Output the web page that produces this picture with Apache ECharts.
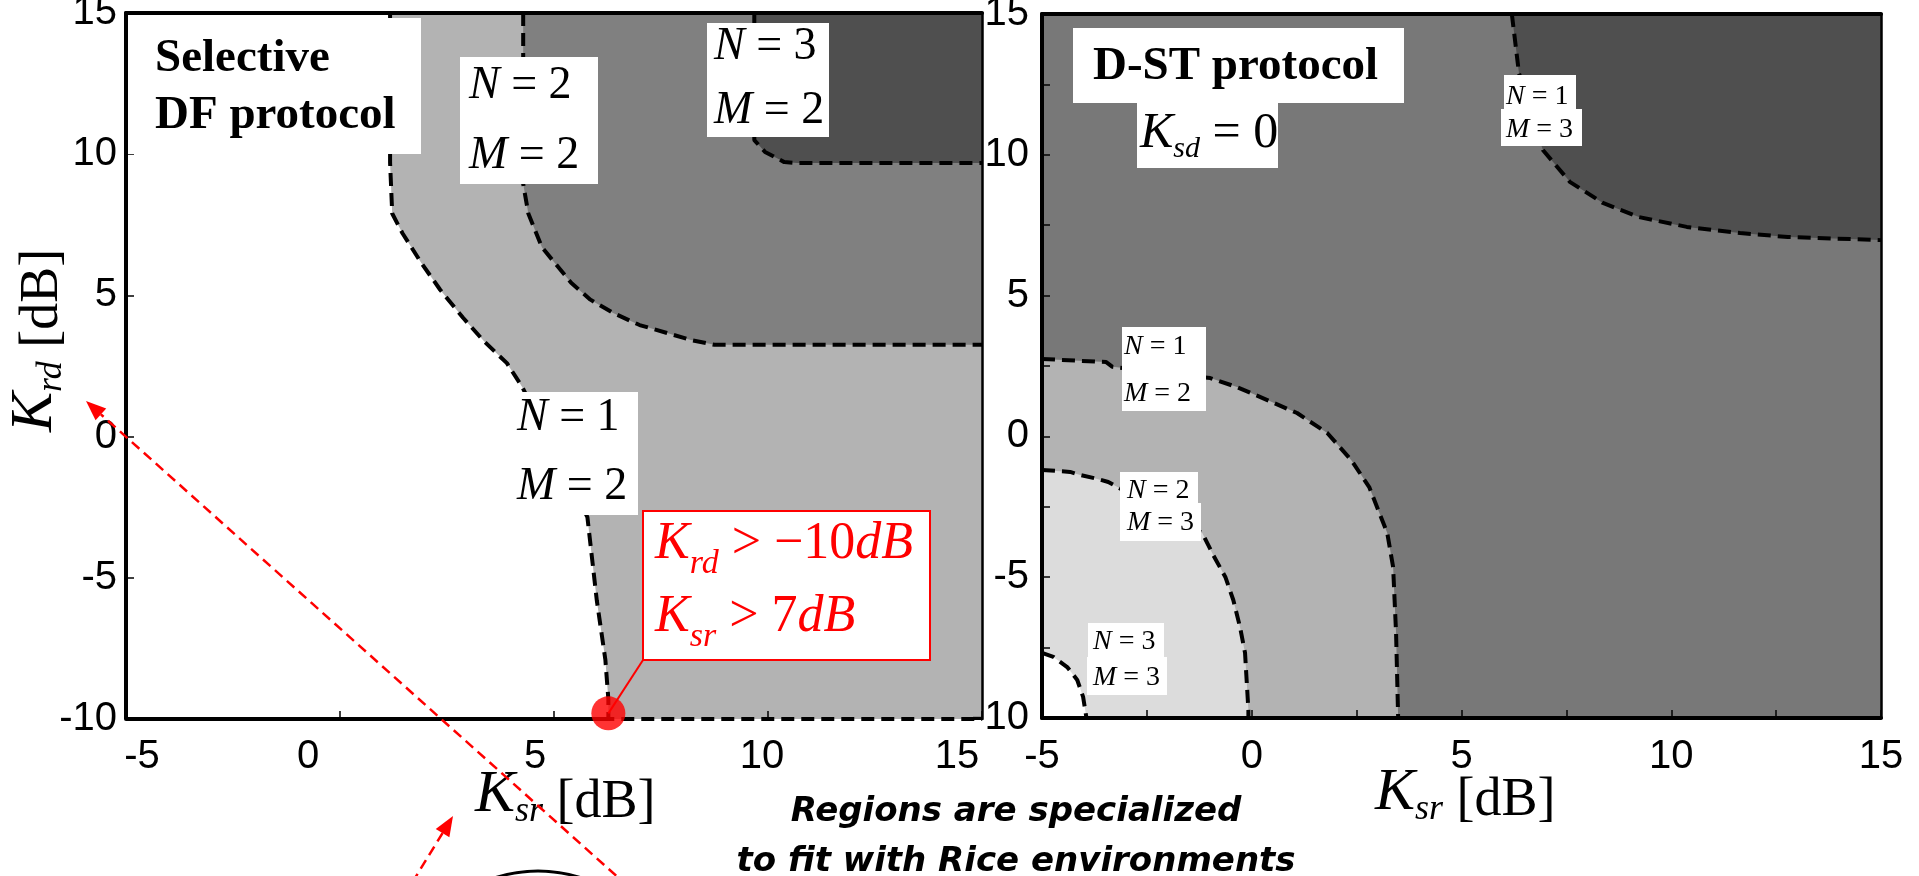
<!DOCTYPE html>
<html>
<head>
<meta charset="utf-8">
<script src="https://cdn.jsdelivr.net/npm/echarts@6/dist/echarts.min.js"></script>
<style>
  html, body { margin: 0; padding: 0; background: #fff; }
  #chart { width: 1919px; height: 876px; }
</style>
</head>
<body>
<div id="chart"></div>
<script>
// labelled ticks (dB)
const ksrTicks = [-5, 0, 5, 10, 15];
const krdTicks = [-10, -5, 0, 5, 10, 15];

// Selective DF protocol : region borders, [Ksr, Krd] in dB
const dfN1M2Edge = [[1.17, 15], [1.17, 9.7], [1.22, 7.9], [1.46, 7.2], [1.9, 6.15], [2.34, 5.2],
  [2.88, 4.2], [3.35, 3.4], [3.9, 2.6], [4.26, 1.75], [5.78, -2.85], [6.0, -5.8], [6.2, -7.9],
  [6.27, -9.3], [6.27, -10], [15, -10]];
const dfN2M2Edge = [[4.28, 15], [4.28, 8.95], [4.4, 7.9], [4.72, 6.7], [5.4, 5.45], [5.85, 4.85],
  [6.38, 4.38], [7.0, 3.95], [7.64, 3.67], [8.2, 3.42], [8.75, 3.25], [15, 3.25]];
const dfN3M2Edge = [[9.68, 15], [9.68, 10.5], [9.93, 10.08], [10.38, 9.72], [10.68, 9.69], [15, 9.69]];
const dfSolidBase = [[-5, -10], [6.27, -10]];
const dfThreshold = [6.27, -9.8];
const dfCallout = [[6.27, -9.8], [7.08, -7.91]];

// D-ST protocol (Ksd = 0) : region borders
const dstN1M3Edge = [[6.2, 15], [6.37, 12.9], [6.94, 10.17], [7.59, 9.03], [8.37, 8.29], [9.23, 7.79],
  [10.37, 7.44], [11.64, 7.22], [12.78, 7.08], [15, 6.97]];
const dstN1M2Edge = [[-5, 2.75], [-3.47, 2.64], [-3.32, 2.47], [-0.99, 2.07], [-0.35, 1.75], [0.37, 1.29],
  [1.08, 0.83], [1.8, 0.12], [2.37, -0.84], [2.8, -1.8], [3.23, -3.43], [3.37, -4.64], [3.44, -6.98],
  [3.49, -10]];
const dstN2M3Edge = [[-5, -1.19], [-4.33, -1.26], [-4.09, -1.37], [-3.68, -1.51], [-3.42, -1.62],
  [-1.18, -3.43], [-0.92, -4.21], [-0.63, -4.99], [-0.44, -5.81], [-0.28, -6.77], [-0.16, -7.69],
  [-0.08, -9.72], [-0.08, -10]];
const dstN3M3Edge = [[-5, -7.69], [-4.73, -7.83], [-4.4, -8.19], [-4.16, -8.65], [-4.02, -9.25], [-3.94, -10]];

const sans = '"Liberation Sans", Arial, sans-serif';
const serif = '"Liberation Serif", "Times New Roman", serif';

// regions painted one over the other
const dfRegions = [
  { points: dfN1M2Edge.concat([[15, 15]]), color: '#b3b3b3' },
  { points: dfN2M2Edge.concat([[15, 15]]), color: '#808080' },
  { points: dfN3M2Edge.concat([[15, 15]]), color: '#4f4f4f' },
];
const dstRegions = [
  { points: dstN1M3Edge.concat([[15, 15]]), color: '#4f4f4f' },
  { points: dstN1M2Edge.concat([[-5, -10]]), color: '#b3b3b3' },
  { points: dstN2M3Edge.concat([[-5, -10]]), color: '#dcdcdc' },
  { points: dstN3M3Edge.concat([[-5, -10]]), color: '#ffffff' },
];

function regionSeries(regions, axisIdx) {
  return {
    type: 'custom',
    xAxisIndex: axisIdx,
    yAxisIndex: axisIdx,
    silent: true,
    z: 1,
    data: regions.map(r => r.points[0]),
    renderItem: function (params, api) {
      const r = regions[params.dataIndex];
      return {
        type: 'polygon',
        shape: { points: r.points.map(p => api.coord(p)) },
        style: { fill: r.color },
      };
    },
  };
}

function edgeSeries(data, axisIdx) {
  return {
    type: 'line',
    data: data,
    xAxisIndex: axisIdx,
    yAxisIndex: axisIdx,
    symbol: 'none',
    clip: false,
    silent: true,
    z: 4,
    lineStyle: { color: '#000', width: 4, type: [13, 7] },
  };
}

const tickStyle = { show: true, inside: true, length: 8, lineStyle: { color: '#000', width: 1.5 } };
const labelFont = { fontSize: 40, fontFamily: sans, color: '#000' };

// the left panel's x labels sit a bit off their ticks in the original
const dfXShift = { '-5': 16, '0': -32, '5': -19, '10': -6, '15': -25 };
const dfXRich = {};
ksrTicks.forEach((v, i) => {
  const s = dfXShift[v];
  dfXRich['t' + i] = Object.assign({}, labelFont, { padding: s > 0 ? [0, 0, 0, 2 * s] : [0, -2 * s, 0, 0] });
});

function frameAxis(grid, pos, width, range) {
  return {
    type: 'value', gridIndex: grid, position: pos, min: range[0], max: range[1], z: 6,
    axisLine: { show: true, onZero: false, lineStyle: { color: '#000', width: width } },
    axisTick: { show: false }, axisLabel: { show: false }, splitLine: { show: false },
  };
}

const option = {
  backgroundColor: '#fff',
  animation: false,
  grid: [
    { left: 126, top: 13, width: 856, height: 706, show: true, backgroundColor: '#fff', borderWidth: 0, outerBoundsMode: 'none' },
    { left: 1042, top: 14, width: 839, height: 704, show: true, backgroundColor: '#787878', borderWidth: 0, outerBoundsMode: 'none' },
  ],
  xAxis: [
    {
      type: 'value', gridIndex: 0, position: 'bottom', min: -5, max: 15, interval: 5, z: 6,
      axisLine: { show: false, onZero: false }, axisTick: tickStyle, splitLine: { show: false },
      axisLabel: {
        margin: 18,
        formatter: v => '{t' + ksrTicks.indexOf(v) + '|' + v + '}',
        rich: dfXRich,
      },
    },
    frameAxis(0, 'top', 4, [-5, 15]),
    {
      type: 'value', gridIndex: 1, position: 'bottom', min: -5, max: 15, interval: 2.5, z: 6,
      axisLine: { show: true, onZero: false, lineStyle: { color: '#000', width: 4 } },
      axisTick: tickStyle, splitLine: { show: false },
      axisLabel: Object.assign({ margin: 19, formatter: v => (ksrTicks.includes(v) ? String(v) : '') }, labelFont),
    },
    frameAxis(1, 'top', 4, [-5, 15]),
  ],
  yAxis: [
    {
      type: 'value', gridIndex: 0, position: 'left', min: -10, max: 15, interval: 5, z: 6,
      axisLine: { show: true, onZero: false, lineStyle: { color: '#000', width: 4 } },
      axisTick: tickStyle, splitLine: { show: false },
      axisLabel: Object.assign({ margin: 9, padding: [22, 0, 0, 0], formatter: v => (krdTicks.includes(v) ? String(v) : '') }, labelFont),
    },
    frameAxis(0, 'right', 2.5, [-10, 15]),
    {
      type: 'value', gridIndex: 1, position: 'left', min: -10, max: 15, interval: 2.5, z: 6,
      axisLine: { show: true, onZero: false, lineStyle: { color: '#000', width: 4 } },
      axisTick: tickStyle, splitLine: { show: false },
      axisLabel: Object.assign({ margin: 13, padding: [20, 0, 0, 0], formatter: v => (krdTicks.includes(v) ? String(v) : '') }, labelFont),
    },
    frameAxis(1, 'right', 2.5, [-10, 15]),
  ],
  series: [
    regionSeries(dfRegions, 0),
    regionSeries(dstRegions, 2),
    edgeSeries(dfN1M2Edge, 0),
    edgeSeries(dfN2M2Edge, 0),
    edgeSeries(dfN3M2Edge, 0),
    edgeSeries(dstN1M3Edge, 2),
    edgeSeries(dstN1M2Edge, 2),
    edgeSeries(dstN2M3Edge, 2),
    edgeSeries(dstN3M3Edge, 2),
    {
      type: 'line', data: dfSolidBase, xAxisIndex: 0, yAxisIndex: 0, symbol: 'none', clip: false, silent: true, z: 5,
      lineStyle: { color: '#000', width: 4 },
    },
    {
      type: 'line', data: dfCallout, xAxisIndex: 0, yAxisIndex: 0, symbol: 'none', clip: false, silent: true, z: 5,
      lineStyle: { color: '#f00', width: 2 },
    },
    {
      type: 'scatter', data: [dfThreshold], xAxisIndex: 0, yAxisIndex: 0, symbolSize: 34, clip: false, silent: true, z: 7,
      itemStyle: { color: '#f00' },
    },
  ],
  graphic: buildAnnotations(),
};

function nmRich(size, lh) {
  return {
    i: { fontFamily: serif, fontStyle: 'italic', fontSize: size, lineHeight: lh, fill: '#000' },
    r: { fontFamily: serif, fontSize: size, lineHeight: lh, fill: '#000' },
  };
}

function kRich(size, subSize, unitSize, lh, subLh, color) {
  return {
    k: { fontFamily: serif, fontStyle: 'italic', fontSize: size, lineHeight: lh, fill: color },
    s: { fontFamily: serif, fontStyle: 'italic', fontSize: subSize, lineHeight: subLh, verticalAlign: 'bottom', fill: color },
    r: { fontFamily: serif, fontSize: size, lineHeight: lh, fill: color },
    u: { fontFamily: serif, fontSize: unitSize, lineHeight: lh - 6, verticalAlign: 'bottom', fill: color },
  };
}

function buildAnnotations() {
  const g = [];
  const box = (x, y, w, h) => g.push({ type: 'rect', z: 110, silent: true, shape: { x, y, width: w, height: h }, style: { fill: '#fff' } });
  const text = (x, y, str, rich, extra) => g.push(Object.assign({
    type: 'text', x, y, z: 120, silent: true,
    style: { text: str, rich, align: 'left', verticalAlign: 'top', fill: '#000' },
  }, extra || {}));

  // left panel
  box(128, 18, 293, 136);
  text(155, 30, '{b|Selective}\n{b|DF protocol}', { b: { fontFamily: serif, fontWeight: 'bold', fontSize: 47, lineHeight: 57, fill: '#000' } });
  box(460, 57, 138, 127);
  text(469, 51, '{i|N}{r| = 2}\n{i|M}{r| = 2}', nmRich(46, 70));
  box(707, 23, 122, 114);
  text(714, 15, '{i|N}{r| = 3}\n{i|M}{r| = 2}', nmRich(46, 64));
  box(515, 392, 123, 123);
  text(517, 383, '{i|N}{r| = 1}\n{i|M}{r| = 2}', nmRich(46, 69));

  g.push({ type: 'rect', z: 110, silent: true, shape: { x: 643, y: 511, width: 287, height: 149 }, style: { fill: '#fff', stroke: '#f00', lineWidth: 2 } });
  text(655, 508, '{k|K}{s|rd}{r| > −10}{k|dB}\n{k|K}{s|sr}{r| > 7}{k|dB}', kRich(52, 34, 52, 73, 41, '#f00'));

  // right panel
  box(1073, 28, 331, 75);
  text(1093, 38, '{b|D-ST protocol}', { b: { fontFamily: serif, fontWeight: 'bold', fontSize: 47, lineHeight: 57, fill: '#000' } });
  box(1137, 103, 141, 65);
  text(1140, 104, '{k|K}{s|sd}{r| = 0}', kRich(50, 30, 50, 60, 38, '#000'));
  box(1504, 75, 72, 34); box(1501, 109, 81, 37);
  text(1506, 80, '{i|N}{r| = 1}\n{i|M}{r| = 3}', nmRich(28, 33));
  box(1122, 327, 84, 84);
  text(1124, 323, '{i|N}{r| = 1}\n{i|M}{r| = 2}', nmRich(28, 47));
  box(1120, 472, 78, 31); box(1120, 503, 81, 38);
  text(1127, 475, '{i|N}{r| = 2}\n{i|M}{r| = 3}', nmRich(28, 32));
  box(1088, 623, 76, 34); box(1087, 657, 80, 38);
  text(1093, 624, '{i|N}{r| = 3}\n{i|M}{r| = 3}', nmRich(28, 36));

  // axis names
  const nameRich = kRich(60, 36, 54, 70, 22, '#000');
  text(475, 760, '{k|K}{s|sr}{u| [dB]}', nameRich);
  text(1375, 758, '{k|K}{s|sr}{u| [dB]}', nameRich);
  text(0, 432, '{k|K}{s|rd}{u| [dB]}', nameRich, { rotation: Math.PI / 2 });

  // note under the panels
  g.push({
    type: 'text', x: 1016, y: 787, z: 120, silent: true,
    style: {
      text: 'Regions are specialized\nto fit with Rice environments',
      align: 'center', verticalAlign: 'top', fill: '#000',
      fontFamily: '"DejaVu Sans", sans-serif', fontWeight: 'bold', fontStyle: 'italic', fontSize: 34, lineHeight: 50,
    },
  });

  // red dashed pointers
  const arrow = (x1, y1, x2, y2) => {
    const len = Math.hypot(x2 - x1, y2 - y1), ux = (x2 - x1) / len, uy = (y2 - y1) / len;
    const bx = x2 - ux * 20, by = y2 - uy * 20;
    g.push({ type: 'line', z: 130, silent: true, shape: { x1, y1, x2: bx, y2: by }, style: { stroke: '#f00', lineWidth: 2.5, lineDash: [10, 6] } });
    g.push({ type: 'polygon', z: 130, silent: true, shape: { points: [[x2, y2], [bx - uy * 8, by + ux * 8], [bx + uy * 8, by - ux * 8]] }, style: { fill: '#f00' } });
  };
  arrow(640, 897, 86, 401);
  arrow(404, 896, 453, 816);
  g.push({ type: 'circle', z: 125, silent: true, shape: { cx: 538, cy: 1011, r: 140 }, style: { fill: 'none', stroke: '#000', lineWidth: 3 } });
  return g;
}

const chart = echarts.init(document.getElementById('chart'), null, { renderer: 'canvas' });
chart.setOption(option);
</script>
</body>
</html>
